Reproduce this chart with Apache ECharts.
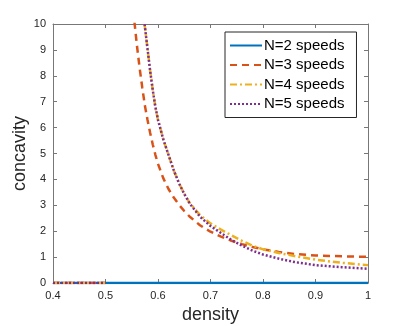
<!DOCTYPE html>
<html>
<head>
<meta charset="utf-8">
<script src="https://cdn.jsdelivr.net/npm/echarts@6/dist/echarts.min.js"></script>
<style>
  html, body { margin: 0; padding: 0; background: #fff; }
  #chart { width: 407px; height: 326px; }
</style>
</head>
<body>
<div id="chart"></div>
<script>
"use strict";
// tick labels
var xTicks = [0.4, 0.5, 0.6, 0.7, 0.8, 0.9, 1];
var yTicks = [0, 1, 2, 3, 4, 5, 6, 7, 8, 9, 10];

// N=2 stays at zero over the whole range
var n2Density = [0.4, 1];
var n2Values = [0, 0];

// below density 0.5 the other curves sit at zero too
var lowDensity = [0.4, 0.5];
var lowValues = [0, 0];

// density grid for the blowing-up part (values above 10 are off the top)
var curveDensity = [0.55, 0.555, 0.56, 0.565, 0.57, 0.575, 0.58, 0.585, 0.59, 0.595, 0.60, 0.61, 0.62, 0.63, 0.64, 0.65, 0.66, 0.68, 0.70, 0.72, 0.74, 0.76, 0.78, 0.80, 0.83, 0.86, 0.90, 0.95, 1.0];
var n3Values = [11.0, 10.1, 9.15, 8.3, 7.55, 6.85, 6.3, 5.8, 5.35, 4.95, 4.6, 4.05, 3.63, 3.3, 3.02, 2.78, 2.57, 2.23, 1.98, 1.79, 1.63, 1.5, 1.39, 1.3, 1.2, 1.12, 1.06, 1.03, 1.01];
var n4Values = [14.6, 13.5, 12.4, 11.5, 10.7, 9.9, 9.05, 8.2, 7.45, 6.8, 6.3, 5.55, 4.95, 4.35, 3.85, 3.45, 3.1, 2.62, 2.3, 2.06, 1.84, 1.63, 1.44, 1.3, 1.16, 1.04, 0.9, 0.78, 0.69];
var n5Values = [14.6, 13.5, 12.4, 11.5, 10.7, 9.9, 9.05, 8.2, 7.45, 6.8, 6.3, 5.55, 4.95, 4.35, 3.85, 3.44, 3.08, 2.56, 2.2, 1.93, 1.66, 1.44, 1.25, 1.1, 0.94, 0.81, 0.69, 0.61, 0.55];

var names = ["N=2 speeds", "N=3 speeds", "N=4 speeds", "N=5 speeds"];
var colors = ["#0072BD", "#D95319", "#EDB120", "#7E2F8E"];
var dashes = ["solid", [7, 5], [7, 3, 2, 3], [2, 2]];

function pairs(xs, ys) {
    return xs.map(function (x, i) { return [x, ys[i]]; });
}

// zero part + gap + curve part
function curveData(ys) {
    return pairs(lowDensity, lowValues).concat([[0.5, null]]).concat(pairs(curveDensity, ys));
}

var seriesData = [
    pairs(n2Density, n2Values),
    curveData(n3Values),
    curveData(n4Values),
    curveData(n5Values)
];

var font = "'Liberation Sans', Arial, sans-serif";
var axisGray = "#777";

function labelFmt(v) {
    var r = Math.round(v * 10) / 10;
    return xTicks.indexOf(r) >= 0 ? String(r) : "";
}

var option = {
    animation: false,
    backgroundColor: "#fff",
    color: colors,
    grid: { left: 53, right: 39, top: 24, bottom: 43, containLabel: false, outerBoundsMode: "none" },
    legend: {
        orient: "vertical",
        left: 225,
        top: 32,
        padding: [6, 12, 6, 4],
        itemGap: 4.5,
        itemWidth: 32,
        itemHeight: 14,
        backgroundColor: "#fff",
        borderColor: "#262626",
        borderWidth: 1,
        itemStyle: { color: "transparent", borderColor: "transparent", borderWidth: 0 },
        textStyle: { fontFamily: font, fontSize: 15, color: "#000", padding: [0, 0, 0, -3] },
        data: names
    },
    xAxis: [{
        type: "value",
        min: 0.4, max: 1, interval: 0.1,
        name: "density",
        nameLocation: "middle",
        nameGap: 23,
        nameTextStyle: { fontFamily: font, fontSize: 18, color: "#262626" },
        axisLine: { onZero: false, lineStyle: { color: axisGray } },
        axisTick: { inside: true, length: 4, lineStyle: { color: axisGray } },
        axisLabel: { fontFamily: font, fontSize: 11, color: "#262626", margin: 7, formatter: labelFmt },
        splitLine: { show: false }
    }, {
        type: "value", position: "top",
        min: 0.4, max: 1, interval: 0.1,
        axisLine: { onZero: false, lineStyle: { color: axisGray } },
        axisTick: { inside: true, length: 4, lineStyle: { color: axisGray } },
        axisLabel: { show: false },
        splitLine: { show: false }
    }],
    yAxis: [{
        type: "value",
        min: yTicks[0], max: yTicks[yTicks.length - 1], interval: 1,
        name: "concavity",
        nameLocation: "middle",
        nameGap: 24,
        nameMoveOverlap: false,
        nameTextStyle: { fontFamily: font, fontSize: 18, color: "#262626" },
        axisLine: { show: true, lineStyle: { color: axisGray } },
        axisTick: { show: true, inside: true, length: 4, lineStyle: { color: axisGray } },
        axisLabel: { fontFamily: font, fontSize: 11, color: "#262626", margin: 7 },
        splitLine: { show: false }
    }, {
        type: "value", position: "right",
        min: yTicks[0], max: yTicks[yTicks.length - 1], interval: 1,
        axisLine: { show: true, lineStyle: { color: axisGray } },
        axisTick: { show: true, inside: true, length: 4, lineStyle: { color: axisGray } },
        axisLabel: { show: false },
        splitLine: { show: false }
    }],
    series: seriesData.map(function (d, i) {
        return {
            name: names[i],
            type: "line",
            data: d,
            symbol: "none",
            connectNulls: false,
            smooth: false,
            lineStyle: { color: colors[i], width: 2.5, type: dashes[i] },
            itemStyle: { color: colors[i] },
            z: 2 + i
        };
    })
};

var chart = echarts.init(document.getElementById("chart"));
chart.setOption(option);
</script>
</body>
</html>
